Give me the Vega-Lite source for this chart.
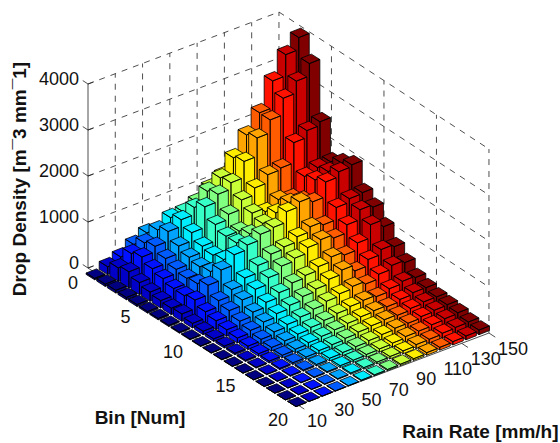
{"$schema":"https://vega.github.io/schema/vega-lite/v6.json","width":560,"height":443,"padding":0,"autosize":{"type":"fit","contains":"padding"},"background":"white","config":{"view":{"stroke":null},"text":{"font":"Liberation Sans"}},
"datasets":{
"bars":[
{"bin":1,"rain":150,"density":1000},{"bin":1,"rain":140,"density":900},{"bin":1,"rain":130,"density":800},{"bin":1,"rain":120,"density":670},{"bin":1,"rain":110,"density":580},{"bin":1,"rain":100,"density":600},{"bin":1,"rain":90,"density":534},{"bin":1,"rain":80,"density":450},{"bin":1,"rain":70,"density":405},{"bin":1,"rain":60,"density":340},{"bin":1,"rain":50,"density":570},{"bin":1,"rain":40,"density":430},{"bin":1,"rain":30,"density":270},{"bin":1,"rain":20,"density":170},{"bin":1,"rain":10,"density":30},
{"bin":2,"rain":150,"density":2200},{"bin":2,"rain":140,"density":2200},{"bin":2,"rain":130,"density":1950},{"bin":2,"rain":120,"density":1600},{"bin":2,"rain":110,"density":1392},{"bin":2,"rain":100,"density":1400},{"bin":2,"rain":90,"density":1246},{"bin":2,"rain":80,"density":1050},{"bin":2,"rain":70,"density":945},{"bin":2,"rain":60,"density":935},{"bin":2,"rain":50,"density":780},{"bin":2,"rain":40,"density":610},{"bin":2,"rain":30,"density":490},{"bin":2,"rain":20,"density":290},{"bin":2,"rain":10,"density":50},
{"bin":3,"rain":150,"density":3990},{"bin":3,"rain":140,"density":3730},{"bin":3,"rain":130,"density":3270},{"bin":3,"rain":120,"density":2690},{"bin":3,"rain":110,"density":2320},{"bin":3,"rain":100,"density":1935},{"bin":3,"rain":90,"density":1610},{"bin":3,"rain":80,"density":1430},{"bin":3,"rain":70,"density":1190},{"bin":3,"rain":60,"density":1035},{"bin":3,"rain":50,"density":890},{"bin":3,"rain":40,"density":680},{"bin":3,"rain":30,"density":560},{"bin":3,"rain":20,"density":350},{"bin":3,"rain":10,"density":60},
{"bin":4,"rain":150,"density":3570},{"bin":4,"rain":140,"density":3300},{"bin":4,"rain":130,"density":3040},{"bin":4,"rain":120,"density":2680},{"bin":4,"rain":110,"density":2400},{"bin":4,"rain":100,"density":2000},{"bin":4,"rain":90,"density":1650},{"bin":4,"rain":80,"density":1510},{"bin":4,"rain":70,"density":1350},{"bin":4,"rain":60,"density":900},{"bin":4,"rain":50,"density":720},{"bin":4,"rain":40,"density":560},{"bin":4,"rain":30,"density":450},{"bin":4,"rain":20,"density":260},{"bin":4,"rain":10,"density":50},
{"bin":5,"rain":150,"density":2450},{"bin":5,"rain":140,"density":2370},{"bin":5,"rain":130,"density":2220},{"bin":5,"rain":120,"density":1780},{"bin":5,"rain":110,"density":1745},{"bin":5,"rain":100,"density":1570},{"bin":5,"rain":90,"density":1420},{"bin":5,"rain":80,"density":1220},{"bin":5,"rain":70,"density":1110},{"bin":5,"rain":60,"density":750},{"bin":5,"rain":50,"density":620},{"bin":5,"rain":40,"density":470},{"bin":5,"rain":30,"density":380},{"bin":5,"rain":20,"density":200},{"bin":5,"rain":10,"density":42},
{"bin":6,"rain":150,"density":1725},{"bin":6,"rain":140,"density":1710},{"bin":6,"rain":130,"density":1630},{"bin":6,"rain":120,"density":1275},{"bin":6,"rain":110,"density":1350},{"bin":6,"rain":100,"density":1200},{"bin":6,"rain":90,"density":1280},{"bin":6,"rain":80,"density":1000},{"bin":6,"rain":70,"density":1000},{"bin":6,"rain":60,"density":700},{"bin":6,"rain":50,"density":560},{"bin":6,"rain":40,"density":420},{"bin":6,"rain":30,"density":310},{"bin":6,"rain":20,"density":160},{"bin":6,"rain":10,"density":35},
{"bin":7,"rain":150,"density":1850},{"bin":7,"rain":140,"density":1770},{"bin":7,"rain":130,"density":1700},{"bin":7,"rain":120,"density":1375},{"bin":7,"rain":110,"density":1430},{"bin":7,"rain":100,"density":1320},{"bin":7,"rain":90,"density":1200},{"bin":7,"rain":80,"density":1085},{"bin":7,"rain":70,"density":1000},{"bin":7,"rain":60,"density":750},{"bin":7,"rain":50,"density":600},{"bin":7,"rain":40,"density":450},{"bin":7,"rain":30,"density":300},{"bin":7,"rain":20,"density":140},{"bin":7,"rain":10,"density":28},
{"bin":8,"rain":150,"density":1950},{"bin":8,"rain":140,"density":1910},{"bin":8,"rain":130,"density":1800},{"bin":8,"rain":120,"density":1480},{"bin":8,"rain":110,"density":1590},{"bin":8,"rain":100,"density":1490},{"bin":8,"rain":90,"density":1260},{"bin":8,"rain":80,"density":1220},{"bin":8,"rain":70,"density":1100},{"bin":8,"rain":60,"density":1000},{"bin":8,"rain":50,"density":780},{"bin":8,"rain":40,"density":560},{"bin":8,"rain":30,"density":350},{"bin":8,"rain":20,"density":160},{"bin":8,"rain":10,"density":24},
{"bin":9,"rain":150,"density":1490},{"bin":9,"rain":140,"density":1470},{"bin":9,"rain":130,"density":1390},{"bin":9,"rain":120,"density":1125},{"bin":9,"rain":110,"density":1195},{"bin":9,"rain":100,"density":1090},{"bin":9,"rain":90,"density":980},{"bin":9,"rain":80,"density":935},{"bin":9,"rain":70,"density":800},{"bin":9,"rain":60,"density":640},{"bin":9,"rain":50,"density":500},{"bin":9,"rain":40,"density":370},{"bin":9,"rain":30,"density":240},{"bin":9,"rain":20,"density":100},{"bin":9,"rain":10,"density":20},
{"bin":10,"rain":150,"density":1320},{"bin":10,"rain":140,"density":1375},{"bin":10,"rain":130,"density":1160},{"bin":10,"rain":120,"density":985},{"bin":10,"rain":110,"density":1060},{"bin":10,"rain":100,"density":1000},{"bin":10,"rain":90,"density":880},{"bin":10,"rain":80,"density":820},{"bin":10,"rain":70,"density":680},{"bin":10,"rain":60,"density":540},{"bin":10,"rain":50,"density":420},{"bin":10,"rain":40,"density":300},{"bin":10,"rain":30,"density":190},{"bin":10,"rain":20,"density":75},{"bin":10,"rain":10,"density":16},
{"bin":11,"rain":150,"density":1040},{"bin":11,"rain":140,"density":1195},{"bin":11,"rain":130,"density":910},{"bin":11,"rain":120,"density":760},{"bin":11,"rain":110,"density":830},{"bin":11,"rain":100,"density":730},{"bin":11,"rain":90,"density":650},{"bin":11,"rain":80,"density":600},{"bin":11,"rain":70,"density":500},{"bin":11,"rain":60,"density":400},{"bin":11,"rain":50,"density":300},{"bin":11,"rain":40,"density":215},{"bin":11,"rain":30,"density":140},{"bin":11,"rain":20,"density":55},{"bin":11,"rain":10,"density":12},
{"bin":12,"rain":150,"density":750},{"bin":12,"rain":140,"density":800},{"bin":12,"rain":130,"density":695},{"bin":12,"rain":120,"density":560},{"bin":12,"rain":110,"density":690},{"bin":12,"rain":100,"density":600},{"bin":12,"rain":90,"density":500},{"bin":12,"rain":80,"density":450},{"bin":12,"rain":70,"density":370},{"bin":12,"rain":60,"density":300},{"bin":12,"rain":50,"density":230},{"bin":12,"rain":40,"density":160},{"bin":12,"rain":30,"density":105},{"bin":12,"rain":20,"density":42},{"bin":12,"rain":10,"density":10},
{"bin":13,"rain":150,"density":550},{"bin":13,"rain":140,"density":600},{"bin":13,"rain":130,"density":520},{"bin":13,"rain":120,"density":420},{"bin":13,"rain":110,"density":480},{"bin":13,"rain":100,"density":430},{"bin":13,"rain":90,"density":380},{"bin":13,"rain":80,"density":320},{"bin":13,"rain":70,"density":260},{"bin":13,"rain":60,"density":210},{"bin":13,"rain":50,"density":160},{"bin":13,"rain":40,"density":110},{"bin":13,"rain":30,"density":75},{"bin":13,"rain":20,"density":32},{"bin":13,"rain":10,"density":8},
{"bin":14,"rain":150,"density":370},{"bin":14,"rain":140,"density":400},{"bin":14,"rain":130,"density":350},{"bin":14,"rain":120,"density":290},{"bin":14,"rain":110,"density":320},{"bin":14,"rain":100,"density":300},{"bin":14,"rain":90,"density":260},{"bin":14,"rain":80,"density":220},{"bin":14,"rain":70,"density":180},{"bin":14,"rain":60,"density":145},{"bin":14,"rain":50,"density":110},{"bin":14,"rain":40,"density":80},{"bin":14,"rain":30,"density":55},{"bin":14,"rain":20,"density":24},{"bin":14,"rain":10,"density":6},
{"bin":15,"rain":150,"density":295},{"bin":15,"rain":140,"density":298},{"bin":15,"rain":130,"density":262},{"bin":15,"rain":120,"density":215},{"bin":15,"rain":110,"density":240},{"bin":15,"rain":100,"density":220},{"bin":15,"rain":90,"density":190},{"bin":15,"rain":80,"density":160},{"bin":15,"rain":70,"density":130},{"bin":15,"rain":60,"density":105},{"bin":15,"rain":50,"density":75},{"bin":15,"rain":40,"density":55},{"bin":15,"rain":30,"density":40},{"bin":15,"rain":20,"density":17},{"bin":15,"rain":10,"density":4},
{"bin":16,"rain":150,"density":240},{"bin":16,"rain":140,"density":242},{"bin":16,"rain":130,"density":212},{"bin":16,"rain":120,"density":175},{"bin":16,"rain":110,"density":190},{"bin":16,"rain":100,"density":170},{"bin":16,"rain":90,"density":145},{"bin":16,"rain":80,"density":120},{"bin":16,"rain":70,"density":95},{"bin":16,"rain":60,"density":78},{"bin":16,"rain":50,"density":50},{"bin":16,"rain":40,"density":37},{"bin":16,"rain":30,"density":27},{"bin":16,"rain":20,"density":12},{"bin":16,"rain":10,"density":3},
{"bin":17,"rain":150,"density":215},{"bin":17,"rain":140,"density":205},{"bin":17,"rain":130,"density":180},{"bin":17,"rain":120,"density":148},{"bin":17,"rain":110,"density":150},{"bin":17,"rain":100,"density":125},{"bin":17,"rain":90,"density":105},{"bin":17,"rain":80,"density":85},{"bin":17,"rain":70,"density":70},{"bin":17,"rain":60,"density":57},{"bin":17,"rain":50,"density":33},{"bin":17,"rain":40,"density":25},{"bin":17,"rain":30,"density":18},{"bin":17,"rain":20,"density":8},{"bin":17,"rain":10,"density":2},
{"bin":18,"rain":150,"density":185},{"bin":18,"rain":140,"density":168},{"bin":18,"rain":130,"density":147},{"bin":18,"rain":120,"density":121},{"bin":18,"rain":110,"density":115},{"bin":18,"rain":100,"density":85},{"bin":18,"rain":90,"density":70},{"bin":18,"rain":80,"density":60},{"bin":18,"rain":70,"density":48},{"bin":18,"rain":60,"density":40},{"bin":18,"rain":50,"density":22},{"bin":18,"rain":40,"density":17},{"bin":18,"rain":30,"density":12},{"bin":18,"rain":20,"density":6},{"bin":18,"rain":10,"density":2},
{"bin":19,"rain":150,"density":130},{"bin":19,"rain":140,"density":123},{"bin":19,"rain":130,"density":108},{"bin":19,"rain":120,"density":89},{"bin":19,"rain":110,"density":85},{"bin":19,"rain":100,"density":60},{"bin":19,"rain":90,"density":50},{"bin":19,"rain":80,"density":40},{"bin":19,"rain":70,"density":32},{"bin":19,"rain":60,"density":27},{"bin":19,"rain":50,"density":14},{"bin":19,"rain":40,"density":11},{"bin":19,"rain":30,"density":8},{"bin":19,"rain":20,"density":4},{"bin":19,"rain":10,"density":1},
{"bin":20,"rain":150,"density":100},{"bin":20,"rain":140,"density":82},{"bin":20,"rain":130,"density":72},{"bin":20,"rain":120,"density":59},{"bin":20,"rain":110,"density":55},{"bin":20,"rain":100,"density":35},{"bin":20,"rain":90,"density":30},{"bin":20,"rain":80,"density":25},{"bin":20,"rain":70,"density":20},{"bin":20,"rain":60,"density":17},{"bin":20,"rain":50,"density":8},{"bin":20,"rain":40,"density":7},{"bin":20,"rain":30,"density":5},{"bin":20,"rain":20,"density":2},{"bin":20,"rain":10,"density":1}
],
"grid":[
{"bin":0,"rain":10,"z":1000,"bin2":0,"rain2":150,"z2":1000},{"bin":0,"rain":10,"z":2000,"bin2":0,"rain2":150,"z2":2000},{"bin":0,"rain":10,"z":3000,"bin2":0,"rain2":150,"z2":3000},{"bin":0,"rain":10,"z":4000,"bin2":0,"rain2":150,"z2":4000},
{"bin":0,"rain":150,"z":1000,"bin2":20,"rain2":150,"z2":1000},{"bin":0,"rain":150,"z":2000,"bin2":20,"rain2":150,"z2":2000},{"bin":0,"rain":150,"z":3000,"bin2":20,"rain2":150,"z2":3000},{"bin":0,"rain":150,"z":4000,"bin2":20,"rain2":150,"z2":4000},
{"bin":0,"rain":30,"z":0,"bin2":0,"rain2":30,"z2":4000},{"bin":0,"rain":50,"z":0,"bin2":0,"rain2":50,"z2":4000},{"bin":0,"rain":70,"z":0,"bin2":0,"rain2":70,"z2":4000},{"bin":0,"rain":90,"z":0,"bin2":0,"rain2":90,"z2":4000},{"bin":0,"rain":110,"z":0,"bin2":0,"rain2":110,"z2":4000},{"bin":0,"rain":130,"z":0,"bin2":0,"rain2":130,"z2":4000},{"bin":0,"rain":150,"z":0,"bin2":0,"rain2":150,"z2":4000},
{"bin":5,"rain":150,"z":0,"bin2":5,"rain2":150,"z2":4000},{"bin":10,"rain":150,"z":0,"bin2":10,"rain2":150,"z2":4000},{"bin":15,"rain":150,"z":0,"bin2":15,"rain2":150,"z2":4000},{"bin":20,"rain":150,"z":0,"bin2":20,"rain2":150,"z2":4000},
{"bin":0,"rain":10,"z":0,"bin2":0,"rain2":150,"z2":0},{"bin":0,"rain":150,"z":0,"bin2":20,"rain2":150,"z2":0}
],
"axes":[
{"bin":0,"rain":10,"z":0,"bin2":0,"rain2":10,"z2":4000},
{"bin":0,"rain":10,"z":0,"bin2":20,"rain2":10,"z2":0},
{"bin":20,"rain":10,"z":0,"bin2":20,"rain2":150,"z2":0},
{"bin":0,"rain":10,"z":0,"bin2":-0.5,"rain2":10,"z2":0},{"bin":0,"rain":10,"z":1000,"bin2":-0.5,"rain2":10,"z2":1000},{"bin":0,"rain":10,"z":2000,"bin2":-0.5,"rain2":10,"z2":2000},{"bin":0,"rain":10,"z":3000,"bin2":-0.5,"rain2":10,"z2":3000},{"bin":0,"rain":10,"z":4000,"bin2":-0.5,"rain2":10,"z2":4000},
{"bin":0,"rain":10,"z":0,"bin2":0,"rain2":14,"z2":0},{"bin":0,"rain":10,"z":1000,"bin2":0,"rain2":14,"z2":1000},{"bin":0,"rain":10,"z":2000,"bin2":0,"rain2":14,"z2":2000},{"bin":0,"rain":10,"z":3000,"bin2":0,"rain2":14,"z2":3000},{"bin":0,"rain":10,"z":4000,"bin2":0,"rain2":14,"z2":4000},
{"bin":20,"rain":150,"z":0,"bin2":20.6,"rain2":150,"z2":0},{"bin":20,"rain":130,"z":0,"bin2":20.6,"rain2":130,"z2":0},{"bin":20,"rain":10,"z":0,"bin2":20.6,"rain2":10,"z2":0}
],
"zlabels":[{"bin":0,"rain":10,"z":0,"label":"0"},{"bin":0,"rain":10,"z":1000,"label":"1000"},{"bin":0,"rain":10,"z":2000,"label":"2000"},{"bin":0,"rain":10,"z":3000,"label":"3000"},{"bin":0,"rain":10,"z":4000,"label":"4000"}],
"binlabels":[{"bin":0,"rain":10,"z":0,"label":"0"},{"bin":5,"rain":10,"z":0,"label":"5"},{"bin":10,"rain":10,"z":0,"label":"10"},{"bin":15,"rain":10,"z":0,"label":"15"},{"bin":20,"rain":10,"z":0,"label":"20"}],
"rainlabels":[{"bin":20,"rain":10,"z":0,"label":"10"},{"bin":20,"rain":30,"z":0,"label":"30"},{"bin":20,"rain":50,"z":0,"label":"50"},{"bin":20,"rain":70,"z":0,"label":"70"},{"bin":20,"rain":90,"z":0,"label":"90"},{"bin":20,"rain":110,"z":0,"label":"110"},{"bin":20,"rain":130,"z":0,"label":"130"},{"bin":20,"rain":150,"z":0,"label":"150"}],
"t1":[{"bin":0,"rain":10,"z":2000,"label":"Drop Density [m¯3 mm¯1]"}],
"t2":[{"bin":10,"rain":10,"z":0,"label":"Bin [Num]"}],
"t3":[{"bin":20,"rain":110,"z":0,"label":"Rain Rate [mm/h]"}]
},
"encoding":{
"x":{"field":"px","type":"quantitative","scale":{"domain":[0,560],"nice":false,"zero":false},"axis":null},
"y":{"field":"py","type":"quantitative","scale":{"domain":[443,0],"nice":false,"zero":false},"axis":null}
},
"layer":[
{"data":{"name":"grid"},"transform":[
{"calculate":"88+10.5*datum.bin+1.364*(datum.rain-10)","as":"px"},{"calculate":"268+6.85*datum.bin-0.514*(datum.rain-10)-0.046*datum.z","as":"py"},
{"calculate":"88+10.5*datum.bin2+1.364*(datum.rain2-10)","as":"px2"},{"calculate":"268+6.85*datum.bin2-0.514*(datum.rain2-10)-0.046*datum.z2","as":"py2"}],
"mark":{"type":"rule","color":"#222222","strokeWidth":0.8,"strokeDash":[6,6]},
"encoding":{"x2":{"field":"px2"},"y2":{"field":"py2"}}},
{"data":{"name":"axes"},"transform":[
{"calculate":"88+10.5*datum.bin+1.364*(datum.rain-10)","as":"px"},{"calculate":"268+6.85*datum.bin-0.514*(datum.rain-10)-0.046*datum.z","as":"py"},
{"calculate":"88+10.5*datum.bin2+1.364*(datum.rain2-10)","as":"px2"},{"calculate":"268+6.85*datum.bin2-0.514*(datum.rain2-10)-0.046*datum.z2","as":"py2"}],
"mark":{"type":"rule","color":"#222222","strokeWidth":0.8},
"encoding":{"x2":{"field":"px2"},"y2":{"field":"py2"}}},
{"data":{"name":"bars"},"transform":[
{"calculate":"0.046*datum.density","as":"h"},
{"calculate":"95.6+10.6*(datum.bin-1)+1.307*(datum.rain-10)","as":"px"},
{"calculate":"275+6.68*(datum.bin-1)-0.514*(datum.rain-10)-datum.h","as":"py"},
{"calculate":"'M-9.47,-0.61L0.99,-4.73L9.47,0.61L-0.99,4.73Z M-9.47,-0.61L-0.99,4.73L-0.99,'+(4.73+datum.h)+'L-9.47,'+(-0.61+datum.h)+'Z M-0.99,4.73L9.47,0.61L9.47,'+(0.61+datum.h)+'L-0.99,'+(4.73+datum.h)+'Z'","as":"glyph"}],
"mark":{"type":"point","filled":true,"size":4,"opacity":1,"stroke":"black","strokeWidth":0.8},
"encoding":{
"shape":{"field":"glyph","type":"nominal","scale":null,"legend":null},
"color":{"field":"rain","type":"ordinal","legend":null,"scale":{"domain":[10,20,30,40,50,60,70,80,90,100,110,120,130,140,150],"range":["#000080","#0000C8","#0012FF","#005BFF","#00A4FF","#00EDFF","#37FFC8","#80FF80","#C8FF37","#FFED00","#FFA400","#FF5B00","#FF1200","#C80000","#800000"]}}}},
{"data":{"name":"zlabels"},"transform":[{"calculate":"88+10.5*datum.bin+1.364*(datum.rain-10)","as":"px"},{"calculate":"268+6.85*datum.bin-0.514*(datum.rain-10)-0.046*datum.z","as":"py"}],
"mark":{"type":"text","align":"right","baseline":"middle","dx":-9,"dy":-4,"fontSize":18,"color":"#111111"},"encoding":{"text":{"field":"label"}}},
{"data":{"name":"binlabels"},"transform":[{"calculate":"88+10.5*datum.bin+1.364*(datum.rain-10)","as":"px"},{"calculate":"268+6.85*datum.bin-0.514*(datum.rain-10)-0.046*datum.z","as":"py"}],
"mark":{"type":"text","align":"right","baseline":"middle","dx":-10,"dy":16,"fontSize":18,"color":"#111111"},"encoding":{"text":{"field":"label"}}},
{"data":{"name":"rainlabels"},"transform":[{"calculate":"88+10.5*datum.bin+1.364*(datum.rain-10)","as":"px"},{"calculate":"268+6.85*datum.bin-0.514*(datum.rain-10)-0.046*datum.z","as":"py"}],
"mark":{"type":"text","align":"left","baseline":"middle","dx":9,"dy":16.5,"fontSize":18,"color":"#111111"},"encoding":{"text":{"field":"label"}}},
{"data":{"name":"t1"},"transform":[{"calculate":"88+10.5*datum.bin+1.364*(datum.rain-10)","as":"px"},{"calculate":"268+6.85*datum.bin-0.514*(datum.rain-10)-0.046*datum.z","as":"py"}],
"mark":{"type":"text","angle":270,"align":"center","baseline":"middle","dx":-3,"dy":-68,"fontSize":19,"fontWeight":"bold","color":"#111111"},"encoding":{"text":{"field":"label"}}},
{"data":{"name":"t2"},"transform":[{"calculate":"88+10.5*datum.bin+1.364*(datum.rain-10)","as":"px"},{"calculate":"268+6.85*datum.bin-0.514*(datum.rain-10)-0.046*datum.z","as":"py"}],
"mark":{"type":"text","align":"center","baseline":"middle","dx":-53,"dy":81.5,"fontSize":19,"fontWeight":"bold","color":"#111111"},"encoding":{"text":{"field":"label"}}},
{"data":{"name":"t3"},"transform":[{"calculate":"88+10.5*datum.bin+1.364*(datum.rain-10)","as":"px"},{"calculate":"268+6.85*datum.bin-0.514*(datum.rain-10)-0.046*datum.z","as":"py"}],
"mark":{"type":"text","align":"center","baseline":"middle","dx":46,"dy":78,"fontSize":19,"fontWeight":"bold","color":"#111111"},"encoding":{"text":{"field":"label"}}}
]}
